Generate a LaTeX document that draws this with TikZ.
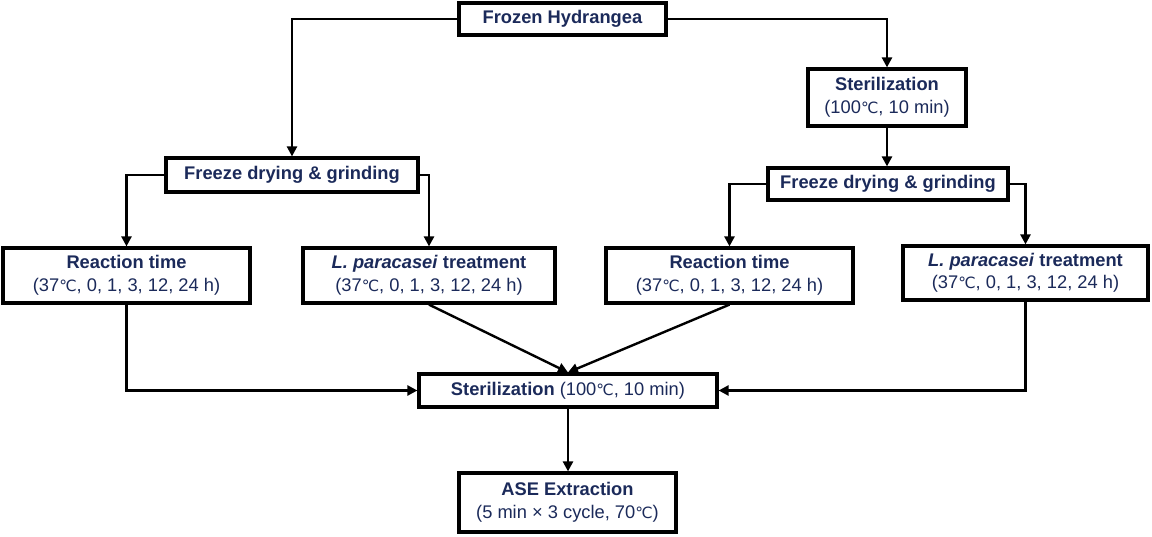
\documentclass[tikz,border=0pt]{standalone}
\usepackage{fontspec}
\setmainfont{Liberation Sans}
\newfontfamily\djv{DejaVu Sans}
\usetikzlibrary{arrows.meta}
\definecolor{txt}{HTML}{1B2A5A}
\newcommand{\dgc}{{\djv\fontsize{15.5}{22}\selectfont ℃}}
\begin{document}
\begin{tikzpicture}[x=1pt,y=-1pt,
  box/.style={draw=black, line width=3.2pt, text=txt, align=center, inner sep=0pt,
    font=\fontsize{18.3}{22.5}\selectfont},
  arr/.style={draw=black, line width=2.4pt, -{Triangle[length=10pt,width=10pt]}}]
\useasboundingbox[fill=white] (0,0) rectangle (1152,537);
\node[box, minimum width=207, minimum height=32] (fh) at (562.5,19) {\textbf{Frozen Hydrangea}};
\node[box, minimum width=158, minimum height=57] (stR) at (887,97.5) {\textbf{Sterilization}\\(100\dgc, 10 min)};
\node[box, minimum width=252, minimum height=34] (frL) at (292,175) {\textbf{Freeze drying \& grinding}};
\node[box, minimum width=240, minimum height=32] (frR) at (888,184) {\textbf{Freeze drying \& grinding}};
\node[box, minimum width=247, minimum height=55] (rtL) at (126.5,275.5) {\textbf{Reaction time}\\(37\dgc, 0, 1, 3, 12, 24 h)};
\node[box, minimum width=252, minimum height=55] (lpL) at (429,275.5) {\textbf{\textit{L. paracasei} treatment}\\(37\dgc, 0, 1, 3, 12, 24 h)};
\node[box, minimum width=247, minimum height=55] (rtR) at (729.5,275.5) {\textbf{Reaction time}\\(37\dgc, 0, 1, 3, 12, 24 h)};
\node[box, minimum width=245, minimum height=54] (lpR) at (1025.5,273) {\textbf{\textit{L. paracasei} treatment}\\(37\dgc, 0, 1, 3, 12, 24 h)};
\node[box, minimum width=298, minimum height=33] (stB) at (568,390.5) {\textbf{Sterilization} (100\dgc, 10 min)};
\node[box, minimum width=217, minimum height=59] (ase) at (567.5,502.5) {\textbf{ASE Extraction}\\(5 min × 3 cycle, 70\dgc)};
\draw[arr] (fh.west) -| (frL.north);
\draw[arr] (fh.east) -| (stR.north);
\draw[arr] (stR.south) -- (stR.south |- frR.north);
\draw[arr] (frL.west) -| (rtL.north);
\draw[arr] (frL.east) -| (lpL.north);
\draw[arr] (frR.west) -| (rtR.north);
\draw[arr] (frR.east) -| (lpR.north);
\draw[arr] (rtL.south) |- (stB.west);
\draw[arr] (lpR.south) |- (stB.east);
\draw[arr] (lpL.south) -- (stB.north);
\draw[arr] (rtR.south) -- (stB.north);
\draw[arr] (stB.south) -- (stB.south |- ase.north);
\end{tikzpicture}
\end{document}
